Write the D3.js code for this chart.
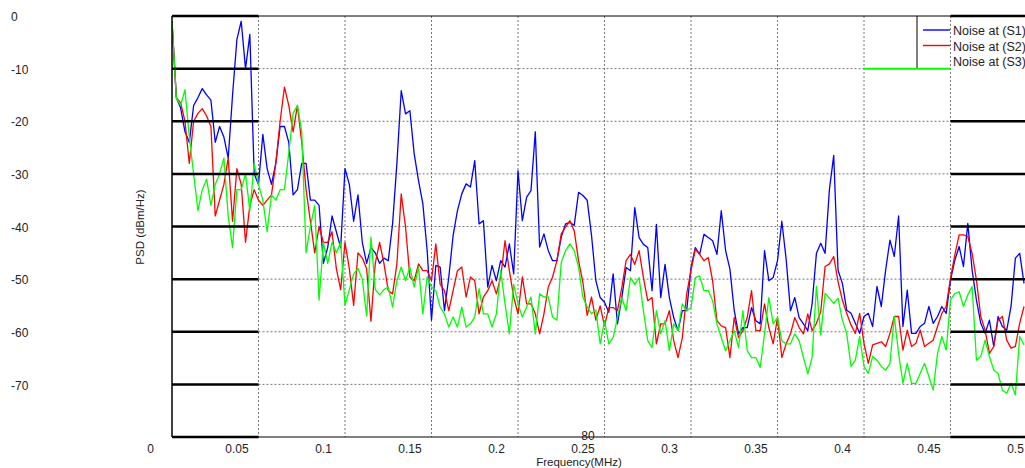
<!DOCTYPE html>
<html>
<head>
<meta charset="utf-8">
<script src="https://cdn.jsdelivr.net/npm/d3@7"></script>
<style>
  html, body { margin: 0; padding: 0; background: #fff; }
  svg { display: block; font-family: "Liberation Sans", Arial, sans-serif; }
</style>
</head>
<body>
<svg width="1025" height="468"></svg>
<script>
// frequency step of the sampled spectrum (MHz)
let vStep = 0.0025;

let vS1 = [
  -1, -15.5, -17.5, -22, -24, -17, -15.5, -13.8, -15, -16,
  -24, -21, -23, -27, -15, -4.5, -1, -10, -3.5, -30,
  -32, -22.5, -29, -32, -28, -21, -21, -24, -34, -33,
  -28, -28, -35, -35, -36, -47, -44, -38, -41, -44,
  -29, -32, -39, -34, -43, -47, -44, -45, -47, -46,
  -46.5, -39.5, -28, -14.2, -18.6, -18, -26.2, -31.3, -35.7, -44.6,
  -57.8, -47.4, -47.7, -56, -49.6, -41.7, -37, -33.8, -31.9, -32.5,
  -27.5, -39.5, -38.9, -51.5, -47.4, -50.3, -46.5, -47.7, -43.3, -49,
  -29.4, -38.9, -34.4, -33.2, -22, -43.9, -41.4, -44.6, -46.5, -46.5,
  -42, -39.5, -39.2, -39.8, -33.5, -34.1, -35, -41.7, -50.3,
  -53.5, -54.4, -56.3, -49, -58.5, -53.5, -47.8, -48.4, -36.4, -42.1,
  -43.4, -44, -52.2, -39.6, -53.5, -47.2, -53.5, -57.3, -59.8, -56,
  -56, -47.8, -44, -45.3, -41.5, -42.1, -42.7, -45.3, -37, -44.6,
  -48.1, -56, -60.4, -59.2, -59.2, -55.4, -57.9, -58.5, -44.6, -50.3,
  -49.7, -46.5, -39, -46.2, -56, -53.5, -57.3, -58.5, -59.8, -54.7,
  -45.1, -43.2, -45.1, -33, -26.5, -48.3, -50.8, -55.9, -56.5, -58.4,
  -60.3, -57.1, -56.5, -59, -51.4, -55.2, -48.3, -42.6, -45.7, -38,
  -59, -52.1, -60.3, -60.3, -59, -58.4, -55.2, -58.4, -57.1, -55.2,
  -56.5, -50.2, -46.4, -43.8, -47.6, -39.4, -48.3, -54, -58.4, -60.3,
  -57.8, -62.8, -57.1, -59, -59.7, -55.2, -46, -45.1, -50.8
];

let vS2 = [
  -1, -15.5, -16.5, -20, -28, -20, -18.5, -17.6, -19, -21,
  -38, -35, -32, -27, -39, -29, -32, -43, -36, -33,
  -35, -36, -35, -34, -28, -20, -13.5, -17, -22, -17,
  -24, -33, -39, -45, -40, -43, -43, -41, -48, -52,
  -43, -48, -55, -45, -46, -48, -58, -47, -43, -47,
  -52.2, -52.8, -47.1, -33.8, -40.1, -49.6, -50.3, -47.1, -48.4, -48.4,
  -50.3, -43.3, -51, -52.2, -56, -52.2, -48.4, -47.7, -53.4, -49.6,
  -50.3, -56.6, -53.4, -52.2, -50.3, -52.8, -49.6, -42.7, -48.4, -53.4,
  -56.6, -49.6, -54.7, -54.7, -56.6, -60.4, -56.6, -51.5, -49.6, -46.5,
  -41.4, -40.1, -38.9, -40.8, -46.5, -50.6, -56.9, -53.4, -57.8,
  -55.1, -58.9, -55.4, -55.4, -56, -51.6, -46.5, -45.3, -47.2, -44.6,
  -49.7, -54.1, -53.5, -62.3, -58.5, -58.5, -56, -61.7, -64.9, -61.1,
  -52.8, -48.4, -44.3, -45.3, -46.5, -45.9, -50.3, -57.9, -58.9, -59.2,
  -64.9, -57.3, -61.1, -59.8, -57.3, -52.2, -59.8, -59.8, -54.7, -59.2,
  -62.3, -57.3, -64.9, -62.3, -60.4, -57.3, -59.2, -60.4, -56.6, -59.8,
  -58.4, -56.2, -47.6, -47.1, -45.7, -50.5, -54, -56.5, -58.7, -60.3,
  -56.5, -62.2, -66, -62.5, -62.2, -61.9, -62.8, -60.3, -57.1, -57.1,
  -63.5, -59.7, -62.8, -62.2, -59.7, -62.8, -62.2, -61.6, -59, -56.5,
  -55.2, -49.8, -45.4, -41.6, -41.6, -41.9, -45.1, -50.2, -57.1, -59.7,
  -64.1, -62.8, -57.8, -57.1, -61.6, -63.1, -62.8, -58.4, -55.2
];

let vS3 = [
  -1, -15.5, -17, -14, -23, -30, -37, -33, -31, -36,
  -32, -30, -27, -38, -44, -33, -33, -30, -37, -28,
  -32, -35, -41, -34, -35, -33, -33, -26, -18.5, -17,
  -22, -45, -40, -36, -54, -43, -47, -43, -45, -43,
  -55, -52, -49, -48, -50, -57, -42, -52, -53, -52,
  -51.5, -55.3, -50.3, -47.7, -50.3, -47.7, -51.5, -47.7, -56.6, -49.6,
  -51.5, -52.2, -55.3, -56.6, -59.1, -57.2, -59.1, -55.3, -59.1, -58.5,
  -57.2, -51.8, -56.6, -56.6, -59.1, -56.6, -48.4, -54.7, -60.4, -51,
  -54.7, -57.2, -55.3, -53.4, -60.4, -52.8, -53.4, -53.4, -57.2, -57.8,
  -46.8, -44.6, -43.3, -44.6, -47.7, -53.4, -55.3, -56.6, -55.9,
  -62.3, -57.9, -62.3, -61.1, -57.3, -53.5, -56, -49.7, -51, -49.7,
  -56, -61.7, -63, -56, -60.4, -57.9, -63.6, -58.5, -59.8, -54.7,
  -56, -55.4, -49.7, -49.4, -52.2, -52.2, -54.1, -58.5, -61.1, -63.6,
  -61.7, -59.8, -63, -56, -63.6, -64.9, -64.9, -66.8, -60.4, -53.5,
  -58.5, -57.3, -61.7, -62.3, -62.3, -60.4, -61.7, -64.9, -68, -64.9,
  -51.4, -60.6, -52.7, -53.6, -54.6, -53.6, -57.8, -60.3, -66.6, -65.4,
  -60.9, -66.6, -67.9, -64.7, -65.4, -66.6, -67.3, -66, -57.1, -64.1,
  -69.8, -66, -69.8, -69.8, -67.9, -66, -68.5, -71.1, -64.1, -60.9,
  -63.5, -54, -52.7, -52.4, -55.2, -53, -51.4, -65.4, -64.7, -61.6,
  -64.7, -67.3, -67.9, -71.1, -71.7, -69.8, -72, -60.9, -62.5
];

let vSeriesNames = ['Noise at (S1)', 'Noise at (S2)', 'Noise at (S3)'];
let vColors = ['#0000ff', '#ff0000', '#00ff00'];
let vXTicks = [0, 0.05, 0.1, 0.15, 0.2, 0.25, 0.3, 0.35, 0.4, 0.45, 0.5];
let vXTickLabels = ['0', '0.05', '0.1', '0.15', '0.2', '0.25', '0.3', '0.35', '0.4', '0.45', '0.5'];
let vYTicks = [0, -10, -20, -30, -40, -50, -60, -70];
let vYTickLabels = ['0', '-10', '-20', '-30', '-40', '-50', '-60', '-70'];

let svg = d3.select('svg')

let x = d3.scaleLinear().domain([0, 0.5]).range([172, 1037])
let y = d3.scaleLinear().domain([-80, 0]).range([437, 16])

let xL = x(0), xR = x(0.5)
let colA = x(0.05), colB = x(0.45)

svg.append('defs').append('clipPath').attr('id', 'plotclip')
  .append('rect')
  .attr('x', xL).attr('y', y(0))
  .attr('width', xR - xL).attr('height', y(-80) - y(0))

// dashed grid
let grid = svg.append('g')
grid.selectAll('line.v')
  .data(vXTicks.filter((t) => t > 0 && t < 0.5))
  .enter().append('line')
  .attr('x1', (d) => x(d)).attr('x2', (d) => x(d))
  .attr('y1', y(0)).attr('y2', y(-80))
  .style('stroke', '#777').style('stroke-width', 1).style('stroke-dasharray', '2,2')
grid.selectAll('line.h')
  .data(vYTicks.filter((t) => t < 0))
  .enter().append('line')
  .attr('x1', colA).attr('x2', colB)
  .attr('y1', (d) => y(d)).attr('y2', (d) => y(d))
  .style('stroke', '#777').style('stroke-width', 1).style('stroke-dasharray', '2,2')

// series
let vLine = d3.line()
  .x((d, i) => x(i * vStep))
  .y((d) => y(d))

let plot = svg.append('g').attr('clip-path', 'url(#plotclip)')
;[vS1, vS2, vS3].forEach((s, i) => {
  plot.append('path')
    .datum(s)
    .attr('d', vLine)
    .style('fill', 'none')
    .style('stroke', vColors[i])
    .style('stroke-width', 1.3)
    .style('stroke-linejoin', 'round')
})

// frame
let frame = svg.append('g')
frame.append('line')
  .attr('x1', xL).attr('x2', xL).attr('y1', y(0)).attr('y2', y(-80))
  .style('stroke', '#000').style('stroke-width', 1.5)
;[0, -80].forEach((v) => {
  frame.append('line')
    .attr('x1', xL).attr('x2', xR).attr('y1', y(v)).attr('y2', y(v))
    .style('stroke', '#000').style('stroke-width', 1)
})
// heavy rules in first column
frame.selectAll('line.first')
  .data(vYTicks.concat([-80]))
  .enter().append('line')
  .attr('x1', xL).attr('x2', colA)
  .attr('y1', (d) => y(d)).attr('y2', (d) => y(d))
  .style('stroke', '#000').style('stroke-width', 2.5)
// heavy rules in last column
frame.selectAll('line.last')
  .data(vYTicks.concat([-80]).filter((d) => d !== -10))
  .enter().append('line')
  .attr('x1', colB).attr('x2', xR)
  .attr('y1', (d) => y(d)).attr('y2', (d) => y(d))
  .style('stroke', '#000').style('stroke-width', 2.5)

// y tick labels
svg.selectAll('text.ytick')
  .data(vYTicks)
  .enter().append('text')
  .attr('x', 11)
  .attr('y', (d) => y(d) + 1)
  .attr('dy', '0.35em')
  .style('font-size', '12px')
  .style('fill', '#222')
  .text((d, i) => vYTickLabels[i])
svg.append('text')
  .attr('x', 588).attr('y', 440)
  .attr('text-anchor', 'middle')
  .style('font-size', '12px').style('fill', '#222')
  .text('80')

// x tick labels (drawn left of the grid)
svg.selectAll('text.xtick')
  .data(vXTicks)
  .enter().append('text')
  .attr('x', (d) => x(d) - 21.5)
  .attr('y', 449)
  .attr('dy', '0.35em')
  .attr('text-anchor', 'middle')
  .style('font-size', '12px')
  .style('fill', '#222')
  .text((d, i) => vXTickLabels[i])

svg.append('text')
  .attr('x', 579).attr('y', 462).attr('dy', '0.35em')
  .attr('text-anchor', 'middle')
  .style('font-size', '11.5px').style('fill', '#222')
  .text('Frequency(MHz)')

svg.append('text')
  .attr('transform', 'translate(140,227) rotate(-90)')
  .attr('dy', '0.35em')
  .attr('text-anchor', 'middle')
  .style('font-size', '11.5px').style('fill', '#222')
  .text('PSD (dBm/Hz)')

// legend
let leg = svg.append('g')
leg.append('line')
  .attr('x1', 917).attr('x2', 917).attr('y1', y(0)).attr('y2', y(-10))
  .style('stroke', '#000').style('stroke-width', 1)
leg.append('line')
  .attr('x1', x(0.4)).attr('x2', colB).attr('y1', y(-10)).attr('y2', y(-10))
  .style('stroke', vColors[2]).style('stroke-width', 2)
vSeriesNames.forEach((n, i) => {
  let ly = 31 + i * 15.5
  if (i < 2) {
    leg.append('line')
      .attr('x1', 923).attr('x2', 950).attr('y1', ly - 1).attr('y2', ly - 1)
      .style('stroke', vColors[i]).style('stroke-width', 1.4)
  }
  leg.append('text')
    .attr('x', 953).attr('y', ly).attr('dy', '0.35em')
    .style('font-size', '12.5px').style('fill', '#222')
    .text(n)
})
</script>
</body>
</html>
